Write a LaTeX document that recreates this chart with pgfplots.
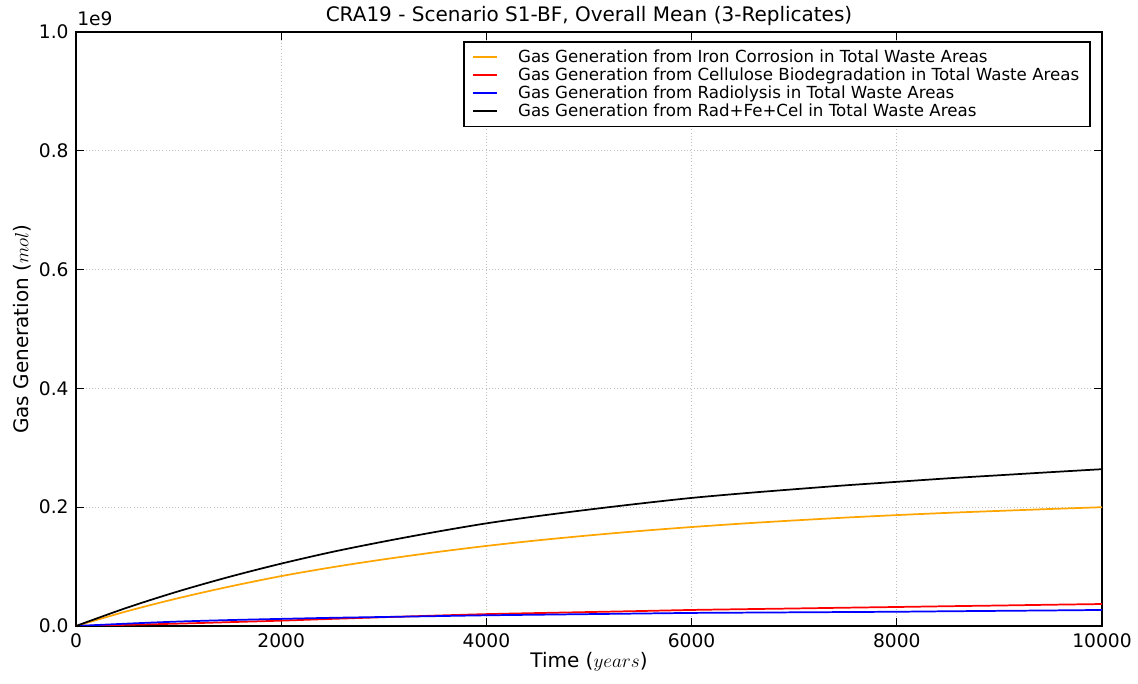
\documentclass[border=0pt]{standalone}
\usepackage{pgfplots}
\usepackage{pgfplotstable}
\usepackage{fontspec}
\setmainfont{DejaVu Sans}
\pgfplotsset{compat=1.18}

% values in units of 1e9 mol
\pgfplotstableread{
t      fe      cel     rad     tot
0      0.0000  0.0000  0.0000  0.0000
500    0.0250  0.0020  0.0040  0.0310
1000   0.0470  0.0040  0.0075  0.0585
1500   0.0665  0.0065  0.0100  0.0830
2000   0.0840  0.0090  0.0120  0.1050
2500   0.0990  0.0120  0.0138  0.1248
3000   0.1122  0.0148  0.0152  0.1422
3500   0.1241  0.0175  0.0166  0.1582
4000   0.1348  0.0200  0.0180  0.1728
4500   0.1442  0.0218  0.0190  0.1850
5000   0.1525  0.0235  0.0200  0.1960
5500   0.1600  0.0252  0.0210  0.2062
6000   0.1666  0.0270  0.0220  0.2156
6500   0.1725  0.0283  0.0225  0.2233
7000   0.1777  0.0295  0.0230  0.2302
7500   0.1825  0.0308  0.0235  0.2368
8000   0.1867  0.0320  0.0240  0.2427
8500   0.1905  0.0333  0.0248  0.2486
9000   0.1938  0.0345  0.0255  0.2538
9500   0.1970  0.0358  0.0262  0.2590
10000  0.2000  0.0370  0.0270  0.2640
}\gasdata

\definecolor{mplorange}{RGB}{255,165,0}

\begin{document}
\begin{tikzpicture}
\begin{axis}[
    scale only axis,
    width=769.5pt, height=445.5pt,
    xmin=0, xmax=10000, ymin=0, ymax=1,
    xtick={0,2000,...,10000},
    ytick={0,0.2,...,1.0},
    scaled x ticks=false,
    scaled y ticks=false,
    clip mode=individual,
    axis line style={black, line width=1.1pt},
    tick style={black, line width=0.8pt},
    major tick length=6pt,
    tick align=inside,
    grid=major,
    major grid style={dotted, gray!50, line width=0.6pt},
    every tick label/.append style={font=\fontsize{14}{16}\selectfont},
    /pgf/number format/assume math mode=true,
    x tick label style={/pgf/number format/1000 sep={}},
    y tick label style={/pgf/number format/fixed, /pgf/number format/fixed zerofill, /pgf/number format/precision=1},
    xticklabel style={yshift=-2pt},
    yticklabel style={xshift=-2pt},
    title={CRA19 - Scenario S1-BF, Overall Mean (3-Replicates)},
    title style={font=\fontsize{15}{17}\selectfont, yshift=-5pt},
    xlabel={Time ($years$)},
    ylabel={Gas Generation ($mol$)},
    label style={font=\fontsize{15}{17}\selectfont},
    xlabel style={yshift=3pt},
    ylabel style={yshift=-1pt},
    legend cell align=left,
    legend style={at={(0.989,0.985)}, anchor=north east,
        draw=black, line width=1.2pt, fill=white,
        font=\fontsize{12.5}{14}\selectfont,
        row sep=-1.5pt, column sep=13pt, inner xsep=6pt, inner ysep=4pt,
        nodes={inner xsep=2pt}},
    legend image code/.code={\draw[#1, line width=1.5pt] (3pt,0pt) -- (21pt,0pt);},
]
\addplot[mplorange, line width=1.3pt, smooth] table[x=t, y=fe] {\gasdata};
\addlegendentry{Gas Generation from Iron Corrosion in Total Waste Areas}
\addplot[red, line width=1.3pt, smooth] table[x=t, y=cel] {\gasdata};
\addlegendentry{Gas Generation from Cellulose Biodegradation in Total Waste Areas}
\addplot[blue, line width=1.3pt, smooth] table[x=t, y=rad] {\gasdata};
\addlegendentry{Gas Generation from Radiolysis in Total Waste Areas}
\addplot[black, line width=1.3pt, smooth] table[x=t, y=tot] {\gasdata};
\addlegendentry{Gas Generation from Rad+Fe+Cel in Total Waste Areas}
\node[anchor=south west, inner sep=0pt, font=\fontsize{14}{16}\selectfont] at (rel axis cs:0.001,1.01) {1e9};
\end{axis}
\pgfresetboundingbox
\path (current axis.south west) ++(-57pt,-43.5pt) rectangle ([shift={(27pt,24pt)}]current axis.north east);
\end{tikzpicture}
\end{document}
